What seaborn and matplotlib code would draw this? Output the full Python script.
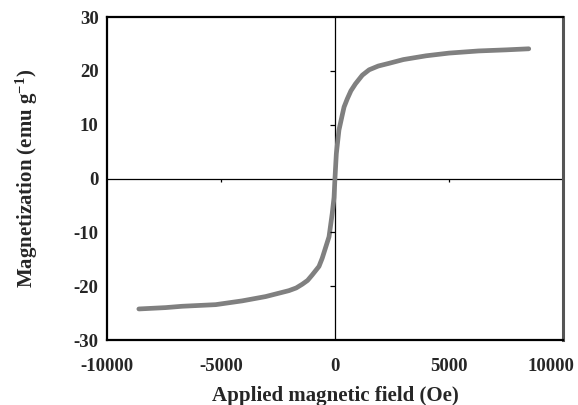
import numpy as np
import pandas as pd
import matplotlib
matplotlib.use('Agg')
import matplotlib.pyplot as plt
import matplotlib.transforms as mtransforms
import seaborn as sns

# M-H loop
field = [-8600, -7430, -6700, -5230, -4070, -3040, -2020, -1700, -1430, -1200, -1000, -700, -560,
         -260, -120, -40, 0, 60, 175, 320, 400, 540, 700, 900, 1200,
         1500, 1900, 2370, 3000, 4000, 5000, 6300, 7500, 8500]
magnetization = [-24.2, -23.95, -23.7, -23.4, -22.7, -21.9, -20.8, -20.3, -19.6, -18.9, -17.9, -16.3, -14.8,
                 -10.8, -6.5, -3.5, 0.0, 4.6, 9.0, 11.8, 13.3, 14.8, 16.3, 17.6, 19.2,
                 20.2, 20.9, 21.4, 22.1, 22.8, 23.3, 23.7, 23.9, 24.1]

x_ticks = [-10000, -5000, 0, 5000, 10000]
y_ticks = [-30, -20, -10, 0, 10, 20, 30]

df = pd.DataFrame({'H': field, 'M': magnetization})

sns.set_style('white')
plt.rcParams['font.family'] = ['Liberation Serif', 'DejaVu Serif']
plt.rcParams['font.weight'] = 'bold'
plt.rcParams['axes.unicode_minus'] = False
plt.rcParams['mathtext.fontset'] = 'custom'
plt.rcParams['mathtext.rm'] = 'Liberation Serif:bold'
plt.rcParams['mathtext.bf'] = 'Liberation Serif:bold'
plt.rcParams['mathtext.default'] = 'bf'

fig = plt.figure(figsize=(5.78, 4.05), dpi=100)
ax = fig.add_axes([0.185, 0.16, 0.789, 0.798])

sns.lineplot(data=df, x='H', y='M', ax=ax, color='#808080', lw=3.4,
             estimator=None, sort=False)

ax.set_xlim(-10000, 10000)
ax.set_ylim(-30, 30)
ax.set_xticks(x_ticks)
ax.set_yticks(y_ticks)
ax.tick_params(length=0, labelsize=13.5)
ax.tick_params(axis='x', pad=13)
ax.tick_params(axis='y', pad=6)
for lab in ax.get_xticklabels() + ax.get_yticklabels():
    lab.set_fontweight('bold')
# last x label is pulled in so it stays on the canvas
last = ax.get_xticklabels()[-1]
last.set_transform(last.get_transform() +
                   mtransforms.ScaledTranslation(-9 / 72, 0, fig.dpi_scale_trans))

# zero lines with their own small ticks
ax.axhline(0, color='black', lw=0.9, zorder=1)
ax.axvline(0, color='black', lw=0.9, zorder=1)
ax.vlines([t for t in x_ticks if t not in (0, -10000, 10000)], -0.7, 0,
          color='black', lw=0.9)
ax.hlines([t for t in y_ticks if t not in (0, -30, 30)], -200, 0,
          color='black', lw=0.9)

for side in ['left', 'top', 'bottom']:
    ax.spines[side].set_color('black')
    ax.spines[side].set_linewidth(1.6)
ax.spines['right'].set_color('#555555')
ax.spines['right'].set_linewidth(2.2)

ax.set_xlabel('Applied magnetic field (Oe)', fontsize=15, fontweight='bold', labelpad=8)
ax.set_ylabel('Magnetization (emu g$^{-1}$)', fontsize=15, fontweight='bold', labelpad=24)

fig.savefig('out.png', dpi=100)
